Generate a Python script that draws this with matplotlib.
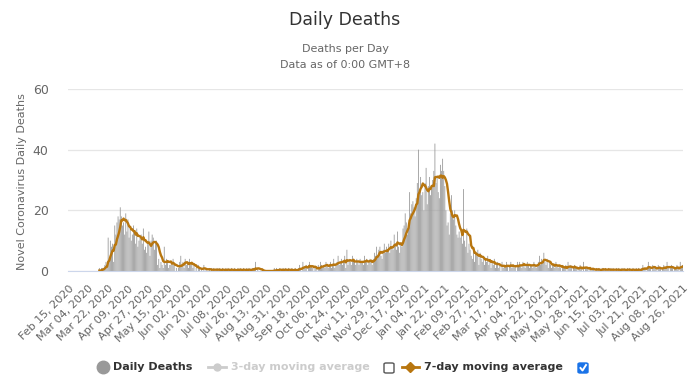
import numpy as np
import pandas as pd
import matplotlib
matplotlib.use('Agg')
import matplotlib.pyplot as plt
from matplotlib.lines import Line2D
from matplotlib.patches import FancyBboxPatch

# daily deaths, one list per month (first list starts Feb 15, 2020)
feb20 = [0, 0, 0, 0, 0, 0, 0, 0, 0, 0, 0, 0, 0, 0, 0]
mar20 = [0, 0, 0, 0, 0, 0, 0, 0, 0, 0, 0, 0, 0,
         1, 0, 1, 1, 1, 2, 3, 2, 11, 4, 10, 8, 9, 3, 15, 12, 16, 18]
apr20 = [17, 21, 18, 15, 16, 12, 19, 13, 17, 11, 14, 10, 12, 15, 13,
         9, 14, 8, 10, 11, 12, 9, 14, 7, 8, 6, 9, 13, 5, 10]
may20 = [12, 11, 7, 9, 10, 2, 4, 1, 3, 2, 1, 8, 2, 4, 3, 1,
         2, 2, 3, 4, 2, 0, 1, 0, 1, 3, 5, 2, 3, 1, 4]
jun20 = [2, 3, 1, 4, 2, 3, 1, 2, 0, 1, 0, 2, 1, 0, 1,
         0, 2, 0, 1, 0, 0, 1, 0, 1, 0, 1, 0, 0, 1, 0]
jul20 = [1, 0, 0, 1, 0, 0, 1, 0, 1, 0, 0, 1, 0, 0, 1, 0,
         0, 1, 0, 1, 0, 0, 1, 0, 0, 1, 0, 1, 0, 0, 1]
aug20 = [1, 0, 3, 0, 1, 0, 0, 0, 0, 0, 0, 0, 0, 0, 0, 0,
         0, 0, 0, 1, 0, 1, 0, 0, 1, 0, 0, 1, 0, 1, 0]
sep20 = [0, 1, 0, 0, 1, 0, 0, 1, 0, 0, 1, 2, 1, 0, 3,
         1, 1, 2, 0, 2, 3, 1, 2, 1, 0, 1, 1, 0, 2, 1]
oct20 = [3, 2, 1, 2, 1, 3, 2, 1, 2, 3, 1, 2, 4, 1, 2, 3,
         5, 2, 3, 4, 2, 3, 5, 1, 7, 2, 4, 3, 2, 5, 3]
nov20 = [3, 2, 4, 3, 2, 4, 3, 3, 2, 5, 3, 4, 2, 3, 4,
         3, 2, 4, 6, 5, 8, 5, 7, 8, 5, 4, 7, 9, 6, 8]
dec20 = [7, 9, 6, 10, 8, 7, 12, 9, 7, 13, 8, 6, 9, 8, 14, 15,
         19, 16, 12, 15, 26, 19, 22, 23, 21, 18, 24, 29, 40, 27, 31]
jan21 = [25, 26, 20, 29, 34, 22, 28, 31, 25, 27, 30, 33, 42, 29, 31, 26,
         24, 35, 33, 37, 33, 28, 20, 15, 16, 12, 19, 25, 20, 17, 20]
feb21 = [15, 12, 11, 13, 11, 12, 9, 27, 10, 8, 14, 6, 9, 7,
         5, 4, 8, 3, 6, 5, 7, 2, 6, 4, 3, 5, 2, 4]
mar21 = [3, 5, 2, 4, 1, 3, 2, 4, 1, 2, 3, 1, 2, 0, 3, 1,
         2, 1, 3, 2, 0, 2, 3, 1, 2, 1, 2, 0, 3, 2, 3]
apr21 = [2, 1, 3, 2, 1, 2, 3, 2, 1, 2, 2, 1, 3, 2, 1,
         2, 3, 5, 2, 4, 3, 6, 3, 2, 4, 1, 3, 2, 1, 2]
may21 = [2, 1, 3, 2, 1, 2, 1, 0, 2, 1, 1, 2, 0, 3, 1, 2,
         1, 0, 1, 2, 1, 1, 0, 1, 2, 1, 0, 3, 0, 1, 1]
jun21 = [1, 0, 1, 0, 1, 1, 0, 0, 1, 0, 1, 0, 0, 1, 1,
         0, 1, 0, 0, 1, 0, 1, 0, 1, 0, 0, 1, 0, 1, 0]
jul21 = [0, 1, 0, 1, 0, 0, 1, 0, 1, 0, 0, 1, 0, 0, 1, 0,
         1, 0, 0, 1, 2, 1, 1, 0, 1, 3, 1, 1, 0, 2, 1]
aug21 = [1, 1, 0, 2, 1, 1, 0, 1, 2, 1, 1, 3, 1, 0, 1, 2,
         1, 0, 1, 1, 2, 1, 0, 3, 1, 2]

daily = (feb20 + mar20 + apr20 + may20 + jun20 + jul20 + aug20 + sep20 + oct20
         + nov20 + dec20 + jan21 + feb21 + mar21 + apr21 + may21 + jun21
         + jul21 + aug21)
dates = pd.date_range('2020-02-15', periods=len(daily), freq='D')

s = pd.Series(daily, index=dates)
avg7 = s.rolling(7, min_periods=1).mean()
avg7[s.cumsum() == 0] = np.nan

W, H = 690, 387
fig = plt.figure(figsize=(W / 100, H / 100), dpi=100)
ax = fig.add_axes([68 / W, 1 - 271 / H, 615 / W, 182 / H])

x = np.arange(len(daily))
bars = ax.bar(x, daily, width=0.75, color='#999999', linewidth=0, zorder=2)
for b in bars:
    b.set_snap(False)
ax.plot(x, avg7.values, color='#b8760f', lw=1.7, zorder=3)

ax.set_xlim(-0.5, len(daily) - 0.5)
ax.set_ylim(0, 60)
ax.set_yticks([0, 20, 40, 60])
ax.grid(axis='y', color='#e6e6e6', lw=0.9, zorder=0)
for sp in ['top', 'right', 'left']:
    ax.spines[sp].set_visible(False)
ax.spines['bottom'].set_color('#ccd6eb')
ticks = x[::18]
ax.set_xticks(ticks)
ax.set_xticklabels([d.strftime('%b %d, %Y') for d in dates[ticks]],
                   rotation=45, ha='right', rotation_mode='anchor',
                   fontsize=8, color='#666666')
ax.tick_params(axis='x', length=0, pad=9)
ax.tick_params(axis='y', length=0, pad=14, labelsize=9, labelcolor='#666666')

fig.text(0.5, 1 - 20 / H, 'Daily Deaths', ha='center', va='center',
         fontsize=12.5, color='#333333')
fig.text(0.5, 1 - 49 / H, 'Deaths per Day', ha='center', va='center',
         fontsize=8, color='#666666')
fig.text(0.5, 1 - 65 / H, 'Data as of 0:00 GMT+8', ha='center', va='center',
         fontsize=8, color='#666666')
fig.text(22 / W, 1 - 182 / H, 'Novel Coronavirus Daily Deaths', rotation=90,
         ha='center', va='center', fontsize=8, color='#666666')

# legend drawn by hand (checkboxes included)
ly = 1 - 367 / H
fig.add_artist(Line2D([103 / W], [ly], marker='o', ms=9, color='#999999',
                      transform=fig.transFigure))
fig.text(113 / W, ly, 'Daily Deaths', ha='left', va='center', fontsize=8,
         fontweight='bold', color='#333333')
fig.add_artist(Line2D([208 / W, 226 / W], [ly, ly], color='#cccccc', lw=2,
                      transform=fig.transFigure))
fig.add_artist(Line2D([217 / W], [ly], marker='o', ms=5, color='#cccccc',
                      transform=fig.transFigure))
fig.text(231 / W, ly, '3-day moving average', ha='left', va='center',
         fontsize=8, fontweight='bold', color='#cccccc')
fig.add_artist(FancyBboxPatch((384 / W, 1 - 373 / H), 10 / W, 10 / H,
                              boxstyle='round,pad=0,rounding_size=0.003',
                              facecolor='white', edgecolor='#555555', lw=1,
                              transform=fig.transFigure))
fig.add_artist(Line2D([402 / W, 419 / W], [ly, ly], color='#b8760f', lw=2,
                      transform=fig.transFigure))
fig.add_artist(Line2D([410 / W], [ly], marker='D', ms=5, color='#b8760f',
                      transform=fig.transFigure))
fig.text(424 / W, ly, '7-day moving average', ha='left', va='center',
         fontsize=8, fontweight='bold', color='#333333')
fig.add_artist(FancyBboxPatch((578 / W, 1 - 373 / H), 10 / W, 10 / H,
                              boxstyle='round,pad=0,rounding_size=0.003',
                              facecolor='#1a73e8', edgecolor='#1a73e8', lw=1,
                              transform=fig.transFigure))
fig.add_artist(Line2D([580.5 / W, 582.5 / W, 586 / W],
                      [1 - 368 / H, 1 - 370.5 / H, 1 - 365 / H],
                      color='white', lw=1.4, transform=fig.transFigure))

fig.savefig('out.png', dpi=100)
